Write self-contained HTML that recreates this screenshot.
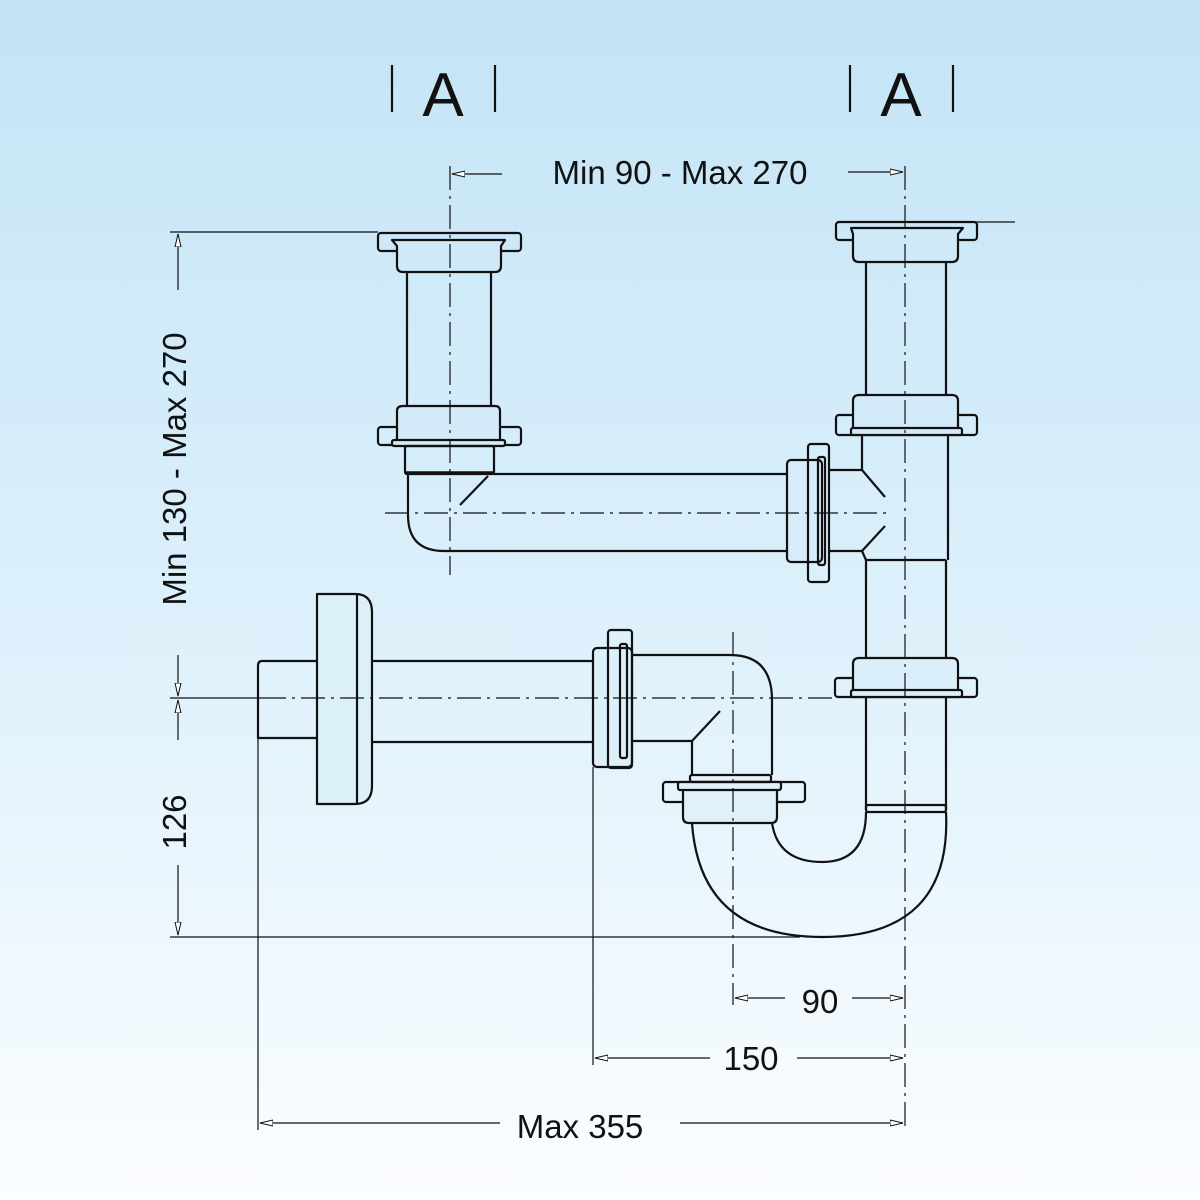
<!DOCTYPE html>
<html><head><meta charset="utf-8"><style>
html,body{margin:0;padding:0}
body{width:1200px;height:1200px;background:linear-gradient(#c3e4f6 0%,#dcf0fb 50%,#fbfdff 100%);}
svg{display:block}
text{font-family:"Liberation Sans",sans-serif;fill:#111}
</style></head><body>
<svg width="1200" height="1200" viewBox="0 0 1200 1200">
<defs>
<marker id="ar" markerWidth="14" markerHeight="8" refX="13" refY="4" orient="auto" markerUnits="userSpaceOnUse">
<path d="M0,1 L13,4 L0,7 Z" fill="#fff" stroke="#111" stroke-width="1"/>
</marker>
</defs>
<g stroke="#111" fill="none" stroke-width="2.2" stroke-linejoin="round">
<line x1="392" y1="65" x2="392" y2="112"/><line x1="495" y1="65" x2="495" y2="112"/>
<line x1="850" y1="65" x2="850" y2="112"/><line x1="953" y1="65" x2="953" y2="112"/>

<!-- LEFT COLUMN -->
<rect x="378" y="233" width="143" height="18" rx="3"/>
<path d="M392 240 H505 L501 246 V266 Q501 272 495 272 H403 Q397 272 397 266 V246 Z" fill="#cfe9f8"/>
<line x1="407" y1="272" x2="407" y2="406"/><line x1="491" y1="272" x2="491" y2="406"/>
<rect x="378" y="427" width="143" height="18" rx="3"/>
<path d="M403 406 H495 Q500 406 500 411 V441 H397 V411 Q397 406 403 406 Z" fill="#d3ebf9"/>
<rect x="392" y="440" width="113" height="6" rx="2" fill="#d3ebf9"/>
<rect x="405" y="446" width="89" height="28" rx="2"/>
<line x1="406" y1="473" x2="493" y2="473" stroke-width="3.5"/>
<path d="M408 474 V515 Q408 551 444 551 H787 M493 474 H787"/>
<line x1="488" y1="476" x2="460" y2="505"/>
<rect x="787" y="460" width="35" height="102" rx="4" fill="#d6edf9"/>
<rect x="808" y="444" width="21" height="138" rx="3"/>
<rect x="818" y="457" width="7" height="108" rx="2"/>
<path d="M829 470 H862 L885 497 M829 551 H862 L885 526"/>
<line x1="862" y1="435" x2="862" y2="470"/><line x1="862" y1="551" x2="866" y2="560"/>
<line x1="948" y1="435" x2="948" y2="560"/>

<!-- RIGHT COLUMN -->
<rect x="836" y="222" width="141" height="18" rx="3"/>
<path d="M851 228 H963 L958 234 V256 Q958 262 952 262 H859 Q853 262 853 256 V234 Z" fill="#cfe9f8"/>
<line x1="866" y1="262" x2="866" y2="395"/><line x1="946" y1="262" x2="946" y2="395"/>
<rect x="836" y="415" width="141" height="20" rx="3"/>
<path d="M859 395 H952 Q958 395 958 401 V429 H853 V401 Q853 395 859 395 Z" fill="#d3ebf9"/>
<rect x="851" y="428" width="111" height="7" rx="2" fill="#d3ebf9"/>
<line x1="866" y1="560" x2="946" y2="560"/>
<line x1="866" y1="560" x2="866" y2="658"/><line x1="946" y1="560" x2="946" y2="658"/>
<rect x="835" y="678" width="142" height="19" rx="3"/>
<path d="M859 658 H952 Q958 658 958 664 V691 H853 V664 Q853 658 859 658 Z" fill="#dbeffa"/>
<rect x="851" y="690" width="111" height="7" rx="2" fill="#dbeffa"/>
<line x1="866" y1="697" x2="866" y2="810"/><line x1="946" y1="697" x2="946" y2="810"/>
<rect x="866" y="805" width="80" height="7" rx="2"/>
<path d="M946 812 Q952 937 822 937 Q700 937 692 823"/>
<path d="M866 812 Q866 862 822 862 Q778 862 772 823"/>
<rect x="663" y="782" width="142" height="20" rx="3"/>
<path d="M683 789 V817 Q683 823 689 823 H771 Q777 823 777 817 V789 Z" fill="#e0f1fb"/>
<rect x="678" y="782" width="103" height="8" rx="2" fill="#e0f1fb"/>
<rect x="690" y="775" width="81" height="7" rx="2"/>
<path d="M692 775 V741 H632 M772 775 V700 Q772 655 730 655 H632"/>
<line x1="692" y1="741" x2="720" y2="711"/>
<rect x="593" y="648" width="39" height="119" rx="4" fill="#dcf0fa"/>
<rect x="608" y="630" width="24" height="138" rx="3"/>
<rect x="620" y="644" width="7" height="114" rx="2"/>
<path d="M371 661 H593 M371 742 H593"/>
<path d="M317 594 H355 Q372 594 372 612 V786 Q372 804 355 804 H317 Z" fill="#dcf0fa"/>
<line x1="357" y1="594" x2="357" y2="804"/>
<path d="M317 661 H262 Q258 661 258 666 V738 H317"/>
</g>

<g stroke="#111" stroke-width="1.2" fill="none" stroke-dasharray="24,6,3,6">
<line x1="450" y1="166" x2="450" y2="575"/>
<line x1="905" y1="166" x2="905" y2="1128"/>
<line x1="385" y1="513" x2="890" y2="513"/>
<line x1="262" y1="698" x2="835" y2="698"/>
<line x1="733" y1="632" x2="733" y2="1005"/>
</g>
<g stroke="#111" stroke-width="1.2" fill="none">
<line x1="170" y1="232" x2="378" y2="232"/>
<line x1="962" y1="222" x2="1015" y2="222"/>
<line x1="170" y1="698" x2="262" y2="698"/>
<line x1="170" y1="937" x2="800" y2="937"/>
<line x1="593" y1="767" x2="593" y2="1065"/>
<line x1="258" y1="738" x2="258" y2="1130"/>
<line x1="178" y1="290" x2="178" y2="234" marker-end="url(#ar)"/>
<line x1="178" y1="655" x2="178" y2="696" marker-end="url(#ar)"/>
<line x1="178" y1="740" x2="178" y2="700" marker-end="url(#ar)"/>
<line x1="178" y1="865" x2="178" y2="935" marker-end="url(#ar)"/>
<line x1="502" y1="174" x2="452" y2="174" marker-end="url(#ar)"/>
<line x1="848" y1="172" x2="903" y2="172" marker-end="url(#ar)"/>
<line x1="785" y1="998" x2="735" y2="998" marker-end="url(#ar)"/>
<line x1="852" y1="998" x2="903" y2="998" marker-end="url(#ar)"/>
<line x1="710" y1="1058" x2="595" y2="1058" marker-end="url(#ar)"/>
<line x1="797" y1="1058" x2="903" y2="1058" marker-end="url(#ar)"/>
<line x1="500" y1="1123" x2="260" y2="1123" marker-end="url(#ar)"/>
<line x1="680" y1="1123" x2="903" y2="1123" marker-end="url(#ar)"/>
</g>

<text x="443" y="116" font-size="62" text-anchor="middle">A</text>
<text x="901" y="116" font-size="62" text-anchor="middle">A</text>
<text x="680" y="184" font-size="33" text-anchor="middle">Min 90 - Max 270</text>
<text transform="translate(186,469) rotate(-90)" font-size="33" text-anchor="middle">Min 130 - Max 270</text>
<text transform="translate(186,822) rotate(-90)" font-size="33" text-anchor="middle">126</text>
<text x="820" y="1013" font-size="33" text-anchor="middle">90</text>
<text x="751" y="1070" font-size="33" text-anchor="middle">150</text>
<text x="580" y="1138" font-size="33" text-anchor="middle">Max 355</text>
</svg>
</body></html>
